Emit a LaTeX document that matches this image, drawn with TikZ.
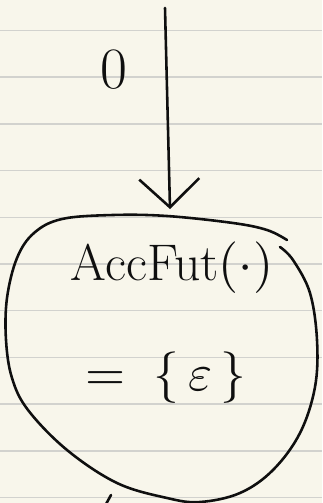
\documentclass[tikz,border=0pt]{standalone}
\usepackage{graphicx}
\usepackage{tikz}
\usetikzlibrary{arrows.meta, positioning}
\definecolor{paper}{RGB}{248,246,235}
\definecolor{ruling}{RGB}{210,210,206}
\definecolor{ink}{RGB}{15,15,15}
\newcommand{\bigmath}[1]{\scalebox{4.4}{\normalsize$#1$}}

\begin{document}
\begin{tikzpicture}[x=0.03cm, y=-0.03cm,
  pen/.style={draw=ink, line width=2.2pt, line cap=round, line join=round},
  every node/.style={font=\fontsize{44}{48}\selectfont, text=ink}]
% ruled paper
\fill[paper] (0,0) rectangle (322,503);
\useasboundingbox (0,0) rectangle (322,503);
\foreach \k in {0,...,10}
  \draw[ruling, line width=1.3pt] (0,30.5+46.7*\k) -- (322,30.5+46.7*\k);

\coordinate (src) at (165,8);
\coordinate (top) at (170,209);
\coordinate (out1) at (111,495);
\coordinate (out2) at (105,506);
\node[font=\fontsize{50}{54}\selectfont] (lbl) at (114,70) {0};
\node (acc) at (172,268) {AccFut\bigmath{(\cdot)}};
\node (eq) at (166,378) {\bigmath{=\;\{\,\varepsilon\,\}}};

% the state blob
\draw[pen] plot[smooth, tension=0.6] coordinates {
  (287,240) (267,230) (233,223) (167,216) (113,215) (62,219) (34,233)
  (17,258) (7,298) (6,340) (12,378) (28,410) (67,450) (117,483) (167,498)
  (200,502) (240,493) (273,470) (300,433) (315,387) (317,340)
  (310,293) (293,260) (280,247)};

\draw[pen, -{Straight Barb[length=0.85cm, width=1.8cm]}] (src) -- (top);
\draw[pen] (out1) -- (out2);
\end{tikzpicture}
\end{document}
